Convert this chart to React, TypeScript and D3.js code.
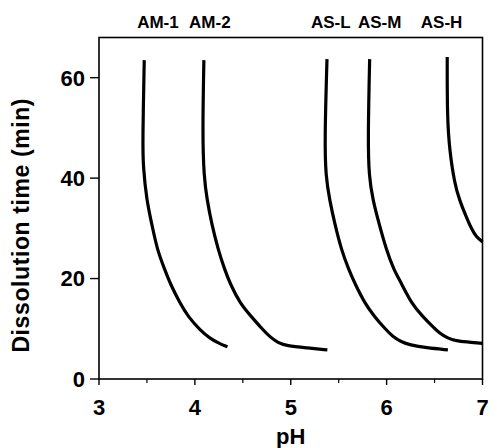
import React from 'react';
import * as d3 from 'd3';

// curve traces: [pH, dissolution time (min)]
const am1 = [[3.472, 63.5], [3.455, 46.9], [3.461, 42.3], [3.497, 35.6], [3.549, 31.0], [3.607, 25.7], [3.688, 21.7], [3.74, 19.1], [3.844, 15.1], [3.93, 12.4], [4.052, 9.8], [4.156, 8.1], [4.26, 7.0], [4.34, 6.4]];
const am2 = [[4.094, 63.5], [4.08, 48.9], [4.094, 40.3], [4.128, 35.6], [4.174, 31.0], [4.243, 25.7], [4.313, 21.7], [4.365, 19.1], [4.469, 15.1], [4.59, 12.4], [4.695, 10.1], [4.781, 8.4], [4.868, 7.2], [4.955, 6.6], [5.164, 6.2], [5.382, 5.8]];
const asL = [[5.378, 63.7], [5.354, 47.6], [5.365, 40.3], [5.406, 35.6], [5.458, 31.0], [5.528, 25.7], [5.607, 21.7], [5.667, 19.1], [5.771, 15.1], [5.875, 12.4], [5.979, 10.1], [6.066, 8.4], [6.153, 7.4], [6.24, 6.8], [6.413, 6.2], [6.639, 5.8]];
const asM = [[5.823, 63.7], [5.805, 47.6], [5.816, 40.3], [5.857, 35.6], [5.92, 31.0], [5.997, 25.7], [6.076, 21.7], [6.153, 19.1], [6.257, 15.1], [6.378, 12.4], [6.482, 10.4], [6.552, 9.1], [6.639, 8.1], [6.726, 7.6], [6.83, 7.4], [7.0, 7.1]];
const asH = [[6.632, 64.1], [6.632, 52.2], [6.656, 45.6], [6.708, 39.0], [6.76, 35.6], [6.83, 32.3], [6.882, 30.0], [6.934, 28.3], [7.0, 27.3]];

const seriesNames = ['AM-1', 'AM-2', 'AS-L', 'AS-M', 'AS-H'];
const labelPH = [3.615, 4.156, 5.417, 5.927, 6.573];
const xTicks = [3, 4, 5, 6, 7];
const xMinorTicks = [3.5, 4.5, 5.5, 6.5];
const yTicks = [0, 20, 40, 60];

const W = 491;
const H = 448;
const margin = { top: 37.5, right: 8.5, bottom: 69, left: 99 };
const font = '"Liberation Sans", Arial, sans-serif';

const App = () => {
    const x = d3.scaleLinear().domain([3, 7]).range([margin.left, W - margin.right]);
    const y = d3.scaleLinear().domain([0, 68]).range([H - margin.bottom, margin.top]);

    // traced points are a bit noisy, a b-spline smooths them out
    const line = d3.line<number[]>()
        .x(d => x(d[0]))
        .y(d => y(d[1]))
        .curve(d3.curveBasis);

    const all = [am1, am2, asL, asM, asH];
    const x0 = x(3), x1 = x(7), y0 = y(0), y1 = y(68);

    return (
        <svg width={W} height={H} style={{ position: 'absolute', left: 0, top: 0, background: '#fff' }}
            fontFamily={font} fontWeight="bold">
            <rect x={x0} y={y1} width={x1 - x0} height={y0 - y1} fill="none" stroke="#000" strokeWidth={1.6} />

            {xTicks.map(t => (
                <g key={'xt' + t}>
                    <line x1={x(t)} x2={x(t)} y1={y0} y2={y0 + 6} stroke="#000" strokeWidth={1.4} />
                    <text x={x(t)} y={415} fontSize={22} textAnchor="middle">{t}</text>
                </g>
            ))}
            {xMinorTicks.map(t => (
                <line key={'xm' + t} x1={x(t)} x2={x(t)} y1={y0} y2={y0 + 4} stroke="#000" strokeWidth={1.2} />
            ))}
            {yTicks.map(t => (
                <g key={'yt' + t}>
                    <line x1={x0 - 9} x2={x0} y1={y(t)} y2={y(t)} stroke="#000" strokeWidth={1.4} />
                    <text x={x0 - 14} y={y(t)} dy="0.36em" fontSize={22} textAnchor="end">{t}</text>
                </g>
            ))}

            {all.map((s, i) => (
                <path key={seriesNames[i]} d={line(s) || ''} fill="none" stroke="#000" strokeWidth={3.2} strokeLinecap="butt" />
            ))}

            {seriesNames.map((n, i) => (
                <text key={'lb' + n} x={x(labelPH[i])} y={28} fontSize={17} textAnchor="middle">{n}</text>
            ))}

            <text x={(x0 + x1) / 2} y={444} fontSize={22} textAnchor="middle">pH</text>
            <text transform={`translate(29,${(y0 + y1) / 2 + 17}) rotate(-90)`} fontSize={23} textAnchor="middle"
                letterSpacing={0.6}>Dissolution time (min)</text>
        </svg>
    );
};

export default App;
